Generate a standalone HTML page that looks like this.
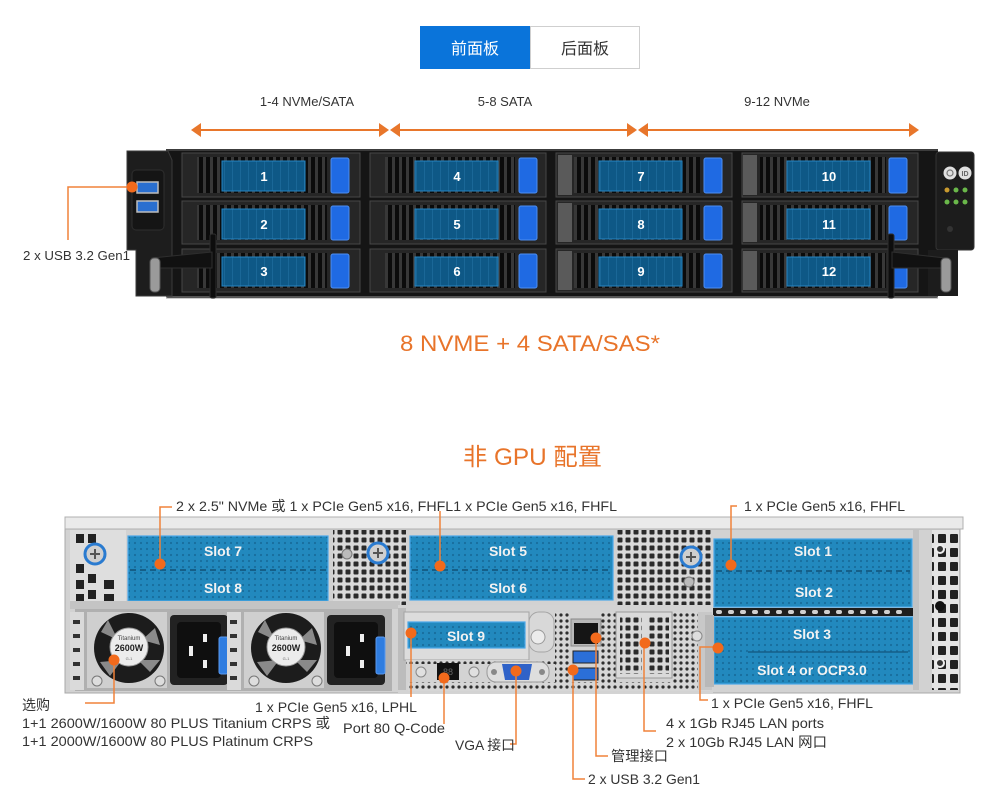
<!DOCTYPE html>
<html><head><meta charset="utf-8"><style>
html,body{margin:0;padding:0;background:#fff;}
svg{display:block;}
text{font-family:"Liberation Sans","Noto Sans CJK SC",sans-serif;}
</style></head><body>
<svg width="990" height="812" viewBox="0 0 990 812" xmlns="http://www.w3.org/2000/svg">
<defs>
<pattern id="grill" width="7" height="10" patternUnits="userSpaceOnUse"><rect width="7" height="10" fill="#0b0b0b"/><rect x="0" width="3" height="10" fill="#383838"/></pattern>
<pattern id="lblp" width="8" height="10" patternUnits="userSpaceOnUse"><rect width="8" height="10" fill="#0e5886"/><rect width="1" height="10" fill="#1a6797"/></pattern>
<pattern id="bdots" width="6" height="6" patternUnits="userSpaceOnUse"><rect width="6" height="6" fill="#2289be"/><circle cx="3" cy="3" r="1.1" fill="#186d9c"/></pattern>
<pattern id="mesh" width="8" height="8" patternUnits="userSpaceOnUse"><rect width="8" height="8" fill="#d9d9d9"/><rect x="1.5" y="1.5" width="5" height="5" rx="1" fill="#2a2a2a"/></pattern>
<pattern id="perf" width="6" height="6" patternUnits="userSpaceOnUse"><rect width="6" height="6" fill="#d6d6d6"/><circle cx="3" cy="3" r="1.6" fill="#2e2e2e"/></pattern>
<pattern id="vent" width="12" height="14" patternUnits="userSpaceOnUse"><rect width="12" height="14" fill="#e4e4e4"/><rect x="2" y="2" width="8" height="9" rx="1" fill="#222"/></pattern>
</defs>

<!-- Tabs -->
<rect x="420" y="26" width="110" height="43" fill="#0a74da"/>
<rect x="530.5" y="26.5" width="109" height="42" fill="#fff" stroke="#cfcfcf"/>
<text x="475" y="54" font-size="16" fill="#fff" text-anchor="middle">前面板</text>
<text x="585" y="54" font-size="16" fill="#333" text-anchor="middle">后面板</text>

<!-- range labels -->
<text x="307" y="106" font-size="13" fill="#333" text-anchor="middle">1-4 NVMe/SATA</text>
<text x="505" y="106" font-size="13" fill="#333" text-anchor="middle">5-8 SATA</text>
<text x="777" y="106" font-size="13" fill="#333" text-anchor="middle">9-12 NVMe</text>

<!-- arrows -->
<g fill="#e8762b" stroke="none">
<rect x="196" y="129" width="188" height="2"/>
<rect x="394" y="129" width="238" height="2"/>
<rect x="642" y="129" width="272" height="2"/>
<polygon points="191,130 201,123 201,137"/>
<polygon points="389,130 379,123 379,137"/>
<polygon points="390,130 400,123 400,137"/>
<polygon points="637,130 627,123 627,137"/>
<polygon points="638,130 648,123 648,137"/>
<polygon points="919,130 909,123 909,137"/>
</g>

<!-- FRONT SERVER -->
<rect x="166" y="149" width="772" height="149" rx="2" fill="#151515"/>
<rect x="166" y="149" width="772" height="2" fill="#3c3c3c"/>
<rect x="166" y="296" width="772" height="3" fill="#9a9a9a" opacity="0.5"/>

<g>
<rect x="182" y="153" width="178" height="44" fill="#262626" stroke="#474747"/>
<rect x="197" y="157" width="130" height="36" fill="url(#grill)"/>
<rect x="182" y="201" width="178" height="43" fill="#262626" stroke="#474747"/>
<rect x="197" y="205" width="130" height="35" fill="url(#grill)"/>
<rect x="182" y="249" width="178" height="43" fill="#262626" stroke="#474747"/>
<rect x="197" y="253" width="130" height="35" fill="url(#grill)"/>
</g>
<g>
<rect x="370" y="153" width="176" height="44" fill="#262626" stroke="#474747"/>
<rect x="385" y="157" width="130" height="36" fill="url(#grill)"/>
<rect x="370" y="201" width="176" height="43" fill="#262626" stroke="#474747"/>
<rect x="385" y="205" width="130" height="35" fill="url(#grill)"/>
<rect x="370" y="249" width="176" height="43" fill="#262626" stroke="#474747"/>
<rect x="385" y="253" width="130" height="35" fill="url(#grill)"/>
</g>
<g>
<rect x="556" y="153" width="176" height="44" fill="#262626" stroke="#474747"/>
<rect x="574" y="157" width="126" height="36" fill="url(#grill)"/>
<rect x="558" y="155" width="14" height="40" fill="#5a5a5a"/>
<rect x="556" y="201" width="176" height="43" fill="#262626" stroke="#474747"/>
<rect x="574" y="205" width="126" height="35" fill="url(#grill)"/>
<rect x="558" y="203" width="14" height="39" fill="#5a5a5a"/>
<rect x="556" y="249" width="176" height="43" fill="#262626" stroke="#474747"/>
<rect x="574" y="253" width="126" height="35" fill="url(#grill)"/>
<rect x="558" y="251" width="14" height="39" fill="#5a5a5a"/>
</g>
<g>
<rect x="742" y="153" width="176" height="44" fill="#262626" stroke="#474747"/>
<rect x="760" y="157" width="126" height="36" fill="url(#grill)"/>
<rect x="743" y="155" width="14" height="40" fill="#5a5a5a"/>
<rect x="742" y="201" width="176" height="43" fill="#262626" stroke="#474747"/>
<rect x="760" y="205" width="126" height="35" fill="url(#grill)"/>
<rect x="743" y="203" width="14" height="39" fill="#5a5a5a"/>
<rect x="742" y="249" width="176" height="43" fill="#262626" stroke="#474747"/>
<rect x="760" y="253" width="126" height="35" fill="url(#grill)"/>
<rect x="743" y="251" width="14" height="39" fill="#5a5a5a"/>
</g>

<!-- labels -->
<g stroke="#2684c2" stroke-width="1">
<rect x="222" y="161" width="83" height="30" fill="url(#lblp)"/>
<rect x="222" y="209" width="83" height="30" fill="url(#lblp)"/>
<rect x="222" y="257" width="83" height="29" fill="url(#lblp)"/>
<rect x="415" y="161" width="83" height="30" fill="url(#lblp)"/>
<rect x="415" y="209" width="83" height="30" fill="url(#lblp)"/>
<rect x="415" y="257" width="83" height="29" fill="url(#lblp)"/>
<rect x="599" y="161" width="83" height="30" fill="url(#lblp)"/>
<rect x="599" y="209" width="83" height="30" fill="url(#lblp)"/>
<rect x="599" y="257" width="83" height="29" fill="url(#lblp)"/>
<rect x="787" y="161" width="83" height="30" fill="url(#lblp)"/>
<rect x="787" y="209" width="83" height="30" fill="url(#lblp)"/>
<rect x="787" y="257" width="83" height="29" fill="url(#lblp)"/>
</g>
<g font-size="13" font-weight="bold" fill="#fff" text-anchor="middle">
<text x="264" y="181">1</text><text x="264" y="229">2</text><text x="264" y="276">3</text>
<text x="457" y="181">4</text><text x="457" y="229">5</text><text x="457" y="276">6</text>
<text x="641" y="181">7</text><text x="641" y="229">8</text><text x="641" y="276">9</text>
<text x="829" y="181">10</text><text x="829" y="229">11</text><text x="829" y="276">12</text>
</g>
<!-- latches -->
<g fill="#1f6ae3" stroke="#4d8ef0" stroke-width="1">
<rect x="331" y="158" width="18" height="35" rx="2"/><rect x="331" y="206" width="18" height="34" rx="2"/><rect x="331" y="254" width="18" height="34" rx="2"/>
<rect x="519" y="158" width="18" height="35" rx="2"/><rect x="519" y="206" width="18" height="34" rx="2"/><rect x="519" y="254" width="18" height="34" rx="2"/>
<rect x="704" y="158" width="18" height="35" rx="2"/><rect x="704" y="206" width="18" height="34" rx="2"/><rect x="704" y="254" width="18" height="34" rx="2"/>
<rect x="889" y="158" width="18" height="35" rx="2"/><rect x="889" y="206" width="18" height="34" rx="2"/><rect x="889" y="254" width="18" height="34" rx="2"/>
</g>

<!-- left ear -->
<path d="M127,151 L168,151 L172,160 L172,296 L136,296 L136,250 L127,250 Z" fill="#1d1d1d" stroke="#3a3a3a"/>
<rect x="132" y="170" width="32" height="60" rx="4" fill="#151515" stroke="#2e2e2e"/>
<rect x="137" y="182" width="21" height="11" fill="#2a6fd0" stroke="#bdbdbd" stroke-width="1.5"/>
<rect x="137" y="201" width="21" height="11" fill="#2a6fd0" stroke="#bdbdbd" stroke-width="1.5"/>
<!-- left handle -->
<rect x="210" y="234" width="6" height="64" rx="2" fill="#0d0d0d" stroke="#2e2e2e"/>
<path d="M152,258 L212,252 L212,268 L160,268 Z" fill="#111" stroke="#2e2e2e"/>
<rect x="150" y="258" width="10" height="34" rx="4" fill="#9a9a9a" stroke="#555"/>

<!-- right ear -->
<rect x="936" y="152" width="38" height="98" rx="3" fill="#1c1c1c" stroke="#333"/>
<rect x="928" y="250" width="30" height="46" fill="#1c1c1c"/>
<circle cx="950" cy="173" r="6.5" fill="#e0e0e0"/><circle cx="965" cy="173" r="6.5" fill="#e0e0e0"/>
<circle cx="950" cy="173" r="3" fill="none" stroke="#777" stroke-width="1.2"/>
<text x="965" y="176" font-size="7" font-weight="bold" fill="#666" text-anchor="middle">ID</text>
<circle cx="947" cy="190" r="2.5" fill="#c99a2e"/><circle cx="956" cy="190" r="2.5" fill="#6ab84a"/><circle cx="965" cy="190" r="2.5" fill="#6ab84a"/>
<circle cx="947" cy="202" r="2.5" fill="#6ab84a"/><circle cx="956" cy="202" r="2.5" fill="#6ab84a"/><circle cx="965" cy="202" r="2.5" fill="#6ab84a"/>
<circle cx="950" cy="229" r="3" fill="#333"/>
<!-- right handle -->
<rect x="888" y="234" width="6" height="64" rx="2" fill="#0d0d0d" stroke="#2e2e2e"/>
<path d="M892,252 L945,258 L945,268 L892,268 Z" fill="#111" stroke="#2e2e2e"/>
<rect x="941" y="258" width="10" height="34" rx="4" fill="#9a9a9a" stroke="#555"/>

<!-- front USB callout -->
<polyline points="132,187 68,187 68,240" fill="none" stroke="#f0823a" stroke-width="1.5"/>
<circle cx="132" cy="187" r="5.5" fill="#f26a1c"/>
<text x="23" y="260" font-size="13" fill="#333" textLength="107" lengthAdjust="spacingAndGlyphs">2 x USB 3.2 Gen1</text>

<!-- titles -->
<text x="400" y="351" font-size="22" fill="#e8742a" textLength="260" lengthAdjust="spacingAndGlyphs">8 NVME + 4 SATA/SAS*</text>
<text x="463" y="465" font-size="24" fill="#e8742a" textLength="139" lengthAdjust="spacingAndGlyphs">非 GPU 配置</text>

<!-- REAR SERVER -->
<rect x="65" y="517" width="895" height="176" fill="#d2d2d2" stroke="#a8a8a8"/>
<rect x="65" y="517" width="898" height="12" fill="#eaeaea" stroke="#b0b0b0"/>
<!-- left vent -->
<rect x="70" y="530" width="56" height="76" fill="#dedede"/>
<g fill="#222">
<rect x="76" y="534" width="8" height="9"/><rect x="88" y="534" width="8" height="9"/>
<rect x="76" y="564" width="8" height="9"/><rect x="88" y="574" width="8" height="9"/>
<rect x="76" y="580" width="8" height="9"/><rect x="76" y="594" width="8" height="9"/><rect x="88" y="590" width="8" height="9"/>
<rect x="104" y="580" width="10" height="9"/><rect x="104" y="594" width="10" height="9"/>
</g>
<circle cx="95" cy="554" r="10" fill="#cfcfcf" stroke="#2a7bd0" stroke-width="3"/>
<path d="M90,554 H100 M95,549 V559" stroke="#555" stroke-width="2"/>
<!-- mesh between -->
<rect x="333" y="530" width="73" height="76" fill="url(#mesh)"/>
<circle cx="378" cy="553" r="10" fill="#cfcfcf" stroke="#2a7bd0" stroke-width="3"/>
<path d="M373,553 H383 M378,548 V558" stroke="#555" stroke-width="2"/>
<circle cx="347" cy="554" r="5" fill="#bbb" stroke="#777"/>
<rect x="617" y="530" width="94" height="80" fill="url(#mesh)"/>
<circle cx="691" cy="557" r="10" fill="#cfcfcf" stroke="#2a7bd0" stroke-width="3"/>
<path d="M686,557 H696 M691,552 V562" stroke="#555" stroke-width="2"/>
<circle cx="689" cy="582" r="5" fill="#bbb" stroke="#777"/>
<!-- slot panels -->
<g stroke="#4aa8ea" stroke-width="1.2">
<rect x="128" y="536" width="200" height="65" fill="url(#bdots)"/>
<rect x="410" y="536" width="203" height="64" fill="url(#bdots)"/>
<rect x="714" y="539" width="198" height="68" fill="url(#bdots)"/>
<rect x="714" y="617" width="199" height="67" fill="url(#bdots)"/>
</g>
<g stroke="#155f88" stroke-width="2" stroke-dasharray="6,4">
<line x1="130" y1="570" x2="326" y2="570"/>
<line x1="412" y1="570" x2="611" y2="570"/>
<line x1="716" y1="571" x2="910" y2="571"/>
</g>
<line x1="748" y1="652" x2="908" y2="652" stroke="#155f88" stroke-width="1.5"/>
<g font-size="14" font-weight="bold" fill="#f2f2f2" text-anchor="middle">
<text x="223" y="556">Slot 7</text><text x="223" y="593">Slot 8</text>
<text x="508" y="556">Slot 5</text><text x="508" y="593">Slot 6</text>
<text x="813" y="556">Slot 1</text><text x="814" y="597">Slot 2</text>
<text x="812" y="639">Slot 3</text><text x="812" y="675">Slot 4 or OCP3.0</text>
</g>
<!-- strip between slot 2 and slot3 -->
<rect x="712" y="608" width="202" height="8" fill="#1e1e1e"/>
<g fill="#d0d0d0"><rect x="716" y="610" width="6" height="4" rx="2"/><rect x="728" y="610" width="6" height="4" rx="2"/><rect x="740" y="610" width="6" height="4" rx="2"/><rect x="752" y="610" width="6" height="4" rx="2"/><rect x="764" y="610" width="6" height="4" rx="2"/><rect x="776" y="610" width="6" height="4" rx="2"/><rect x="788" y="610" width="6" height="4" rx="2"/><rect x="800" y="610" width="6" height="4" rx="2"/><rect x="812" y="610" width="6" height="4" rx="2"/><rect x="824" y="610" width="6" height="4" rx="2"/><rect x="836" y="610" width="6" height="4" rx="2"/><rect x="848" y="610" width="6" height="4" rx="2"/><rect x="860" y="610" width="6" height="4" rx="2"/><rect x="872" y="610" width="6" height="4" rx="2"/><rect x="884" y="610" width="6" height="4" rx="2"/><rect x="896" y="610" width="6" height="4" rx="2"/></g>
<rect x="913" y="530" width="6" height="160" fill="#c2c2c2"/>
<!-- right vent -->
<rect x="932" y="530" width="27" height="160" fill="url(#vent)"/>
<circle cx="940" cy="549" r="4" fill="#333" stroke="#eee" stroke-width="2"/>
<circle cx="940" cy="606" r="5" fill="#111"/>
<circle cx="940" cy="663" r="4" fill="#333" stroke="#eee" stroke-width="2"/>

<!-- bottom under slot7/8 -->
<rect x="70" y="601" width="330" height="8" fill="#c4c4c4"/>
<!-- PSU 1 -->
<g id="psu">
<rect x="75" y="609" width="160" height="82" fill="#b0b0b0"/>
<rect x="70" y="612" width="14" height="78" fill="#dadada"/>
<g fill="#333"><rect x="73" y="620" width="7" height="4"/><rect x="73" y="634" width="7" height="4"/><rect x="73" y="648" width="7" height="4"/><rect x="73" y="662" width="7" height="4"/><rect x="73" y="676" width="7" height="4"/></g>
<rect x="87" y="612" width="80" height="76" fill="#cfcfcf"/>
<circle cx="129" cy="648" r="35" fill="#1c1c1c"/>
<path d="M101,632 L118,640 L108,620 Z M155,628 L142,640 L160,645 Z M110,676 L122,660 L100,662 Z M150,672 L138,660 L160,660 Z" fill="#8a8a8a"/>
<circle cx="129" cy="647" r="19" fill="#ececec" stroke="#999"/>
<text x="129" y="640" font-size="6" fill="#444" text-anchor="middle">Titanium</text>
<text x="129" y="651" font-size="9" font-weight="bold" fill="#222" text-anchor="middle">2600W</text>
<text x="129" y="660" font-size="4" fill="#666" text-anchor="middle">G-1</text>
<circle cx="97" cy="681" r="5" fill="#ddd" stroke="#777"/>
<circle cx="160" cy="681" r="5" fill="#ddd" stroke="#777"/>
<rect x="170" y="615" width="58" height="70" rx="4" fill="#222"/>
<rect x="177" y="622" width="44" height="56" rx="4" fill="#0f0f0f"/>
<rect x="203" y="634" width="4" height="8" fill="#eee"/><rect x="203" y="660" width="4" height="8" fill="#eee"/><rect x="189" y="646" width="4" height="10" fill="#eee"/>
<rect x="219" y="637" width="9" height="37" rx="2" fill="#2f7de0" stroke="#5b9af0"/>
</g>
<use href="#psu" transform="translate(157,0)"/>

<!-- I/O area -->
<rect x="398" y="605" width="315" height="88" fill="#d3d3d3"/>
<rect x="398" y="608" width="8" height="82" fill="#bcbcbc"/>
<rect x="404" y="612" width="125" height="48" fill="#dcdcdc" stroke="#a5a5a5"/>
<rect x="408" y="622" width="117" height="26" fill="url(#bdots)" stroke="#4aa8ea" stroke-width="1.2"/>
<text x="466" y="641" font-size="14" font-weight="bold" fill="#f2f2f2" text-anchor="middle">Slot 9</text>
<rect x="529" y="612" width="25" height="40" rx="10" fill="#d8d8d8" stroke="#a5a5a5"/>
<circle cx="538" cy="637" r="7" fill="#ececec" stroke="#999"/>
<rect x="408" y="682" width="302" height="9" fill="url(#perf)"/>
<rect x="406" y="660" width="160" height="4" fill="url(#perf)"/>
<rect x="555" y="612" width="14" height="70" fill="url(#perf)"/>
<rect x="600" y="612" width="16" height="70" fill="url(#perf)"/>
<rect x="673" y="612" width="25" height="70" fill="url(#perf)"/>
<circle cx="421" cy="672" r="5" fill="#e0e0e0" stroke="#888"/>
<rect x="437" y="663" width="22" height="17" fill="#111"/>
<text x="448" y="675" font-size="9" fill="#666" text-anchor="middle">88</text>
<circle cx="474" cy="672" r="5" fill="#e0e0e0" stroke="#888"/>
<rect x="487" y="662" width="62" height="20" rx="9" fill="#dedede" stroke="#999"/>
<path d="M502,664 H532 L529,680 H505 Z" fill="#2f62c8"/>
<circle cx="494" cy="672" r="3" fill="#888"/><circle cx="542" cy="672" r="3" fill="#888"/>
<rect x="571" y="619" width="30" height="27" fill="#b8b8b8" stroke="#888"/>
<rect x="574" y="623" width="24" height="21" fill="#151515"/>
<rect x="573" y="651" width="25" height="12" fill="#2b6fd8" stroke="#222"/>
<rect x="573" y="668" width="25" height="12" fill="#2b6fd8" stroke="#222"/>
<rect x="616" y="612" width="56" height="66" fill="#dadada" stroke="#9a9a9a"/>
<rect x="620" y="616" width="22" height="58" fill="url(#mesh)"/>
<rect x="647" y="616" width="22" height="58" fill="url(#mesh)"/>
<rect x="698" y="612" width="14" height="78" fill="#c8c8c8"/>
<circle cx="697" cy="636" r="5" fill="#ddd" stroke="#888"/>
<rect x="705" y="615" width="9" height="72" fill="#b8b8b8"/>

<!-- rear callouts -->
<g fill="none" stroke="#f0823a" stroke-width="1.5">
<polyline points="172,507 160,507 160,564"/>
<line x1="440" y1="511" x2="440" y2="566"/>
<polyline points="737,506 731,506 731,565"/>
<polyline points="114,660 114,703 85,703"/>
<line x1="411" y1="633" x2="411" y2="697"/>
<line x1="444" y1="678" x2="444" y2="724"/>
<polyline points="516,671 516,744 510,744"/>
<polyline points="573,670 573,779 585,779"/>
<polyline points="596,638 596,756 608,756"/>
<polyline points="644,643 644,731 656,731"/>
<polyline points="718,647 700,647 700,700 708,700"/>
</g>
<g fill="#f26a1c">
<circle cx="160" cy="564" r="5.5"/><circle cx="440" cy="566" r="5.5"/><circle cx="731" cy="565" r="5.5"/>
<circle cx="114" cy="660" r="5.5"/><circle cx="411" cy="633" r="5.5"/><circle cx="444" cy="678" r="5.5"/>
<circle cx="516" cy="671" r="5.5"/><circle cx="573" cy="670" r="5.5"/><circle cx="596" cy="638" r="5.5"/>
<circle cx="645" cy="643" r="5.5"/><circle cx="718" cy="648" r="5.5"/>
</g>
<g font-size="14" fill="#333">
<text x="176" y="511" textLength="441" lengthAdjust="spacingAndGlyphs">2 x 2.5" NVMe 或 1 x PCIe Gen5 x16, FHFL1 x PCIe Gen5 x16, FHFL</text>
<text x="744" y="511" textLength="161" lengthAdjust="spacingAndGlyphs">1 x PCIe Gen5 x16, FHFL</text>
<text x="22" y="710">选购</text>
<text x="22" y="728" textLength="308" lengthAdjust="spacingAndGlyphs">1+1 2600W/1600W 80 PLUS Titanium CRPS 或</text>
<text x="22" y="746" textLength="291" lengthAdjust="spacingAndGlyphs">1+1 2000W/1600W 80 PLUS Platinum CRPS</text>
<text x="255" y="712" textLength="162" lengthAdjust="spacingAndGlyphs">1 x PCIe Gen5 x16, LPHL</text>
<text x="343" y="733" textLength="102" lengthAdjust="spacingAndGlyphs">Port 80 Q-Code</text>
<text x="455" y="750" textLength="60" lengthAdjust="spacingAndGlyphs">VGA 接口</text>
<text x="611" y="761" textLength="57" lengthAdjust="spacingAndGlyphs">管理接口</text>
<text x="588" y="784" textLength="112" lengthAdjust="spacingAndGlyphs">2 x USB 3.2 Gen1</text>
<text x="666" y="728" textLength="158" lengthAdjust="spacingAndGlyphs">4 x 1Gb RJ45 LAN ports</text>
<text x="666" y="747" textLength="161" lengthAdjust="spacingAndGlyphs">2 x 10Gb RJ45 LAN 网口</text>
<text x="711" y="708" textLength="162" lengthAdjust="spacingAndGlyphs">1 x PCIe Gen5 x16, FHFL</text>
</g>
</svg>
</body></html>
